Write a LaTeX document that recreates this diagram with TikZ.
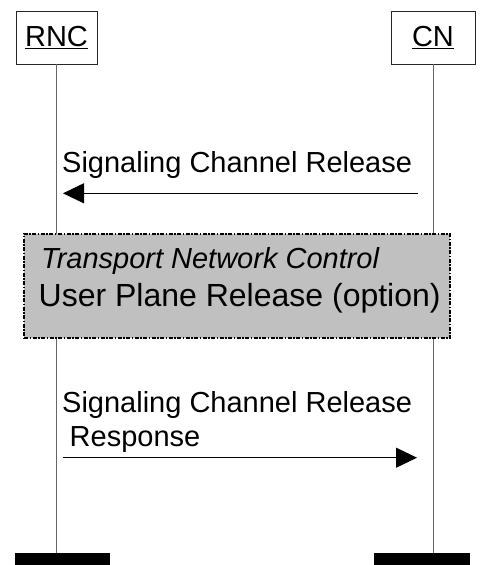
\documentclass[tikz,border=0pt]{standalone}
\usepackage{fontspec}
\setmainfont{Liberation Sans}
\usetikzlibrary{arrows.meta}
\tikzset{
  entity/.style={draw=black!85, line width=0.8pt, fill=white, inner sep=0pt,
    minimum height=53pt, font=\fontsize{29}{34}\selectfont},
  lifeline/.style={draw=black!60, line width=1pt},
  endbar/.style={fill=black, draw=none, inner sep=0pt, minimum height=12pt},
  msg/.style={draw=black, line width=1pt, -{Triangle[length=21pt,width=20pt]}},
  msglabel/.style={anchor=base west, inner sep=0pt, font=\fontsize{29}{34}\selectfont},
  procbox/.style={draw=black, line width=1.2pt, fill={rgb,255:red,192;green,192;blue,192},
    dash pattern=on 4pt off 1.5pt on 1.5pt off 1.5pt, inner sep=0pt,
    minimum width=426pt, minimum height=104pt}
}
\begin{document}
\begin{tikzpicture}[x=1pt,y=-1pt]
  \useasboundingbox (0,0) rectangle (492,565);

  % entities
  \node[entity, minimum width=81pt] (rnc) at (56.5,37.5) {\underline{RNC}};
  \node[entity, minimum width=84pt] (cn) at (433,37.5) {\underline{CN}};

  % end-of-life bars
  \node[endbar, minimum width=95pt] (rncbar) at (62.5,559) {};
  \node[endbar, minimum width=96pt] (cnbar) at (422,559) {};

  % lifelines
  \coordinate (rnctop) at (56,64);
  \coordinate (cntop) at (433,64);
  \draw[lifeline] (rnctop) -- (rnctop |- rncbar.north);
  \draw[lifeline] (cntop) -- (cntop |- cnbar.north);

  % Signaling Channel Release
  \coordinate (m1s) at (418,193.3);
  \coordinate (m1e) at (63,193.3);
  \draw[msg] (m1s) -- (m1e);
  \node[msglabel] (m1l) at (62,172) {Signaling Channel Release};

  % transport network control procedure
  \node[procbox] (tnc) at (237,286) {};
  \node[anchor=base west, inner sep=0pt, font=\fontsize{29}{34}\selectfont\itshape]
    (tnc1) at (41,268) {Transport Network Control};
  \node[anchor=base west, inner sep=0pt, font=\fontsize{32}{37}\selectfont]
    (tnc2) at (38.5,306) {User Plane Release (option)};

  % Signaling Channel Release Response
  \node[msglabel] (m2l) at (62,412) {Signaling Channel Release};
  \node[msglabel] (m2r) at (69.5,446) {Response};
  \coordinate (m2s) at (63,457.7);
  \coordinate (m2e) at (417,457.7);
  \draw[msg] (m2s) -- (m2e);
\end{tikzpicture}
\end{document}
